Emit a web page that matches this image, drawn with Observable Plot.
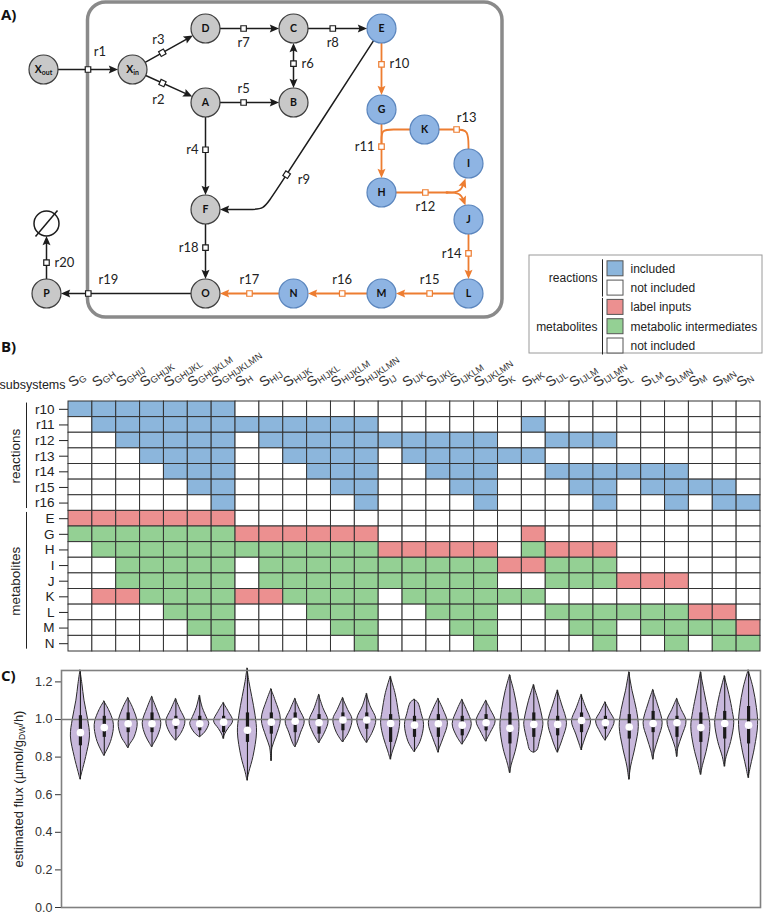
<!DOCTYPE html>
<html><head><meta charset="utf-8">
<script src="https://cdn.jsdelivr.net/npm/d3@7"></script>
<script src="https://cdn.jsdelivr.net/npm/@observablehq/plot@0.6"></script>
<style>
body{margin:0;background:#fff;}
#fig{position:relative;width:763px;height:915px;overflow:hidden;font-family:"Liberation Sans",Arial,sans-serif;}
.panel{position:absolute;left:0;}
.tag{position:absolute;font-family:"Open Sans",sans-serif;font-weight:700;font-size:15px;color:#111;}
</style></head><body>
<div id="fig">
 <div id="pa" class="panel" style="top:0"></div>
 <div id="pb" class="panel" style="top:330px"></div>
 <div id="pc" class="panel" style="top:660px"></div>
 <div class="tag" style="left:1px;top:4px">A)</div>
 <div class="tag" style="left:1px;top:336px">B)</div>
 <div class="tag" style="left:1px;top:665px">C)</div>
</div>
<script>
// ================= DATA =================
// --- Panel A: network (diagram layout units) ---
const nodeIds   = ["Xout","Xin","D","C","E","A","B","F","O","P","Ø","G","K","I","H","J","L","M","N"];
const nodeText  = ["X_{out}","X_{in}","D","C","E","A","B","F","O","P","","G","K","I","H","J","L","M","N"];
const nodeX     = [43,132,205,293,381,205,293,205,205,46,46,381,424,468,381,468,468,381,293];
const nodeY     = [69,69,28,28,28,102,102,209,293,293,223,109,129,163,192,219,293,293,293];
const nodeKind  = ["core","core","core","core","sub","core","core","core","core","core","sink","sub","sub","sub","sub","sub","sub","sub","sub"];

const reactions = [
 {id:"r1",  path:["Xout","Xin"], head:"end",  sub:false, t:0.5,  side:"NE"},
 {id:"r3",  path:["Xin","D"],    head:"end",  sub:false, t:0.36, side:"NW"},
 {id:"r2",  path:["Xin","A"],    head:"end",  sub:false, t:0.36, side:"SW"},
 {id:"r7",  path:["D","C"],      head:"end",  sub:false, t:0.4,  side:"S"},
 {id:"r8",  path:["C","E"],      head:"end",  sub:false, t:0.42, side:"S"},
 {id:"r6",  path:["B","C"],      head:"both", sub:false, t:0.54, side:"E"},
 {id:"r5",  path:["A","B"],      head:"end",  sub:false, t:0.4,  side:"N"},
 {id:"r4",  path:["A","F"],      head:"end",  sub:false, t:0.42, side:"W"},
 {id:"r9",  path:["E",[272,196],[263,209],[250,209],"F"], head:"end", sub:false, t:0.86, side:"SE"},
 {id:"r18", path:["F","O"],      head:"end",  sub:false, t:0.43, side:"W"},
 {id:"r19", path:["O","P"],      head:"end",  sub:false, t:0.79, side:"NE2"},
 {id:"r20", path:["P","Ø"],      head:"end",  sub:false, t:0.38, side:"E"},
 {id:"r10", path:["E","G"],      head:"end",  sub:true,  t:0.41, side:"E"},
 {id:"r11", path:["G","H"],      head:"end",  sub:true,  t:0.42, side:"W"},
 {id:null,  path:["K",[392,129],[381,129],[381,140],[381,146]], head:"none", sub:true},
 {id:"r12", path:["H",[447,192]], head:"none", sub:true, t:0.57, side:"S"},
 {id:null,  path:[[446,192],[460,192],[465,178]], head:"end", sub:true},
 {id:null,  path:[[446,192],[460,192],[465,205]], head:"end", sub:true},
 {id:"r13", path:["K",[457,129],[468,129],"I"], head:"none", sub:true, t:0.95, side:"NE1"},
 {id:"r14", path:["J","L"],      head:"end",  sub:true,  t:0.43, side:"W"},
 {id:"r15", path:["L","M"],      head:"end",  sub:true,  t:0.42, side:"N"},
 {id:"r16", path:["M","N"],      head:"end",  sub:true,  t:0.42, side:"N"},
 {id:"r17", path:["N","O"],      head:"end",  sub:true,  t:0.5,  side:"N"}
];

const legendLabels = ["included","not included","label inputs","metabolic intermediates","not included"];
const legendGroups = ["reactions","metabolites"];
const legendGroupRows = [[0,1],[2,4]];

// --- Panel B: subsystem composition ---
const subsystems = ["G","GH","GHIJ","GHIJK","GHIJKL","GHIJKLM","GHIJKLMN","H","HIJ","HIJK","HIJKL","HIJKLM","HIJKLMN",
  "IJ","IJK","IJKL","IJKLM","IJKLMN","K","HK","IJL","IJLM","IJLMN","L","LM","LMN","M","MN","N"];
const rowNames = ["r10","r11","r12","r13","r14","r15","r16","E","G","H","I","J","K","L","M","N"];
const rowGroups = ["reactions","metabolites"];
const rowGroupRange = [[0,6],[7,15]];
// 0 = not included, 1 = included / metabolic intermediate, 2 = label input
const cellCodes = [
 "11111110000000000000000000000",
 "01111111111110000001000000000",
 "00111110111111111100111000000",
 "00011110011110111111000000000",
 "00001110001110011100111111000",
 "00000110000110001100011011110",
 "00000010000010000100001001011",
 "22222220000000000000000000000",
 "11111112222220000002000000000",
 "01111111111112222201222000000",
 "00111110111111111122111000000",
 "00111110111111111100111222000",
 "02211112211110111111000000000",
 "00001110001110011100111111220",
 "00000110000110001100011011112",
 "00000010000010000100001001011"
];

// --- Panel C: violin summaries per subsystem [min, q1, median, q3, max] ---
const violinStats = [
 [0.680,0.860,0.930,1.020,1.260],[0.806,0.905,0.957,1.017,1.095],[0.847,0.930,0.977,1.035,1.113],
 [0.852,0.930,0.977,1.035,1.120],[0.887,0.948,0.986,1.017,1.108],[0.905,0.940,0.977,1.017,1.125],
 [0.896,0.930,0.986,1.017,1.087],[0.674,0.878,0.943,1.035,1.270],[0.778,0.922,0.986,1.035,1.160],
 [0.852,0.930,0.991,1.035,1.109],[0.873,0.922,0.983,1.026,1.130],[0.878,0.940,0.997,1.035,1.113],
 [0.875,0.948,0.997,1.035,1.135],[0.786,0.878,0.979,1.026,1.226],[0.826,0.905,0.970,1.017,1.104],
 [0.823,0.905,0.977,1.026,1.109],[0.866,0.913,0.970,1.017,1.104],[0.882,0.940,0.983,1.026,1.099],
 [0.714,0.870,0.953,1.035,1.234],[0.823,0.905,0.974,1.035,1.182],[0.823,0.913,0.974,1.017,1.153],
 [0.835,0.930,0.995,1.035,1.130],[0.887,0.948,0.983,1.017,1.090],[0.679,0.896,0.960,1.026,1.250],
 [0.786,0.930,0.979,1.043,1.156],[0.800,0.905,0.983,1.017,1.109],[0.705,0.878,0.957,1.035,1.250],
 [0.748,0.896,0.979,1.043,1.229],[0.688,0.870,0.970,1.069,1.260]
];
// density profile [flux value, relative half-width]
const violinProfiles = [
 [[1.26,0],[1.19,.08],[1.10,.17],[1.0,.32],[0.91,.40],[0.80,.24],[0.72,.08],[0.68,0]],
 [[1.095,0],[1.05,.2],[0.99,.38],[0.95,.40],[0.88,.28],[0.835,.12],[0.806,0]],
 [[1.113,0],[1.06,.21],[0.98,.40],[0.905,.27],[0.87,.10],[0.847,0]],
 [[1.12,0],[1.06,.19],[0.98,.39],[0.91,.25],[0.87,.08],[0.852,0]],
 [[1.108,0],[1.05,.2],[0.99,.40],[0.93,.25],[0.887,0]],
 [[1.125,0],[1.06,.13],[1.0,.33],[0.977,.40],[0.93,.22],[0.905,0]],
 [[1.087,0],[1.04,.22],[0.99,.40],[0.95,.20],[0.92,.06],[0.896,0]],
 [[1.27,0],[1.2,.08],[1.12,.2],[1.02,.34],[0.93,.40],[0.80,.25],[0.72,.08],[0.674,0]],
 [[1.16,0],[1.10,.18],[1.0,.40],[0.905,.2],[0.85,.05],[0.778,0]],
 [[1.109,0],[1.05,.2],[0.99,.40],[0.93,.25],[0.87,.08],[0.852,0]],
 [[1.13,0],[1.06,.18],[0.99,.40],[0.93,.25],[0.89,.08],[0.873,0]],
 [[1.113,0],[1.05,.22],[1.0,.40],[0.93,.26],[0.878,0]],
 [[1.135,0],[1.07,.16],[1.0,.40],[0.93,.25],[0.875,0]],
 [[1.226,0],[1.14,.2],[1.04,.34],[0.98,.40],[0.90,.28],[0.83,.1],[0.786,0]],
 [[1.104,0],[1.09,.15],[1.03,.30],[0.97,.40],[0.88,.25],[0.826,0]],
 [[1.109,0],[1.05,.22],[0.98,.40],[0.90,.22],[0.85,.07],[0.823,0]],
 [[1.104,0],[1.05,.2],[0.975,.40],[0.91,.22],[0.866,0]],
 [[1.099,0],[1.05,.2],[0.99,.40],[0.93,.2],[0.882,0]],
 [[1.234,0],[1.15,.18],[1.05,.33],[0.96,.40],[0.85,.28],[0.76,.08],[0.714,0]],
 [[1.182,0],[1.10,.2],[1.0,.38],[0.97,.40],[0.88,.25],[0.835,.15],[0.823,0]],
 [[1.153,0],[1.08,.18],[0.98,.39],[0.90,.23],[0.84,.06],[0.823,0]],
 [[1.13,0],[1.06,.2],[0.99,.40],[0.92,.22],[0.86,.06],[0.835,0]],
 [[1.09,0],[1.04,.2],[0.99,.39],[0.93,.2],[0.887,0]],
 [[1.25,0],[1.15,.14],[1.05,.32],[0.96,.40],[0.85,.26],[0.75,.08],[0.679,0]],
 [[1.156,0],[1.08,.2],[0.98,.40],[0.90,.24],[0.83,.07],[0.786,0]],
 [[1.109,0],[1.05,.2],[0.99,.40],[0.91,.22],[0.85,.06],[0.8,0]],
 [[1.25,0],[1.15,.15],[1.04,.32],[0.96,.40],[0.85,.28],[0.76,.1],[0.705,0]],
 [[1.229,0],[1.13,.2],[1.04,.34],[0.98,.40],[0.88,.27],[0.80,.08],[0.748,0]],
 [[1.26,0],[1.17,.2],[1.06,.35],[0.97,.40],[0.85,.27],[0.75,.1],[0.688,0]]
];

// ================= STYLE =================
const BLACK="#1c1c1c", ORANGE="#ed7d31";
const NODE_GREY="#c8c8c8", NODE_BLUE="#8eb4e3";
const CELL_BLUE="#8cb6dc", CELL_RED="#ec9090", CELL_GREEN="#94d094";
const VIOLET="#c8b8dc";
const legendColors = [CELL_BLUE,"white",CELL_RED,CELL_GREEN,"white"];
const SANS="'Liberation Sans', Arial, sans-serif";

// ================= PANEL A =================
const idx = Object.fromEntries(nodeIds.map((d,i)=>[d,i]));
const R = 14.5, RSINK = 12.5;
const pos = p => typeof p === "string" ? [nodeX[idx[p]], nodeY[idx[p]]] : p;
const rad = p => typeof p === "string" ? (nodeKind[idx[p]]==="sink" ? RSINK : R) : 0;
const toward = (a,b,r) => { const dx=b[0]-a[0], dy=b[1]-a[1], L=Math.hypot(dx,dy); return [a[0]+dx/L*r, a[1]+dy/L*r]; };
const angle = (a,b) => Math.atan2(b[1]-a[1], b[0]-a[0])*180/Math.PI;
const sideOffset = {N:[0,-14,"middle"], S:[0,14,"middle"], E:[8,0,"start"], W:[-7,0,"end"],
  NE:[12,-18,"middle"], NE1:[10,-12,"middle"], NE2:[20,-14,"middle"], NW:[-4,-13,"middle"], SW:[-4,17,"middle"], SE:[11,5,"start"]};

const linePts=[], heads=[], markers=[], rlabels=[];
reactions.forEach((e,k)=>{
  const raw = e.path.map(pos);
  const pts = raw.map(p=>p.slice());
  const n = pts.length-1;
  pts[0] = toward(raw[0], raw[1], rad(e.path[0]));
  pts[n] = toward(raw[n], raw[n-1], rad(e.path[n]));
  const col = e.sub ? ORANGE : BLACK;
  const drawPts = pts.map(p=>p.slice());
  if (e.head==="end"||e.head==="both") {
    heads.push({x:pts[n][0], y:pts[n][1], a:angle(pts[n-1],pts[n]), col});
    drawPts[n] = toward(pts[n], pts[n-1], 4);
  }
  if (e.head==="both") {
    heads.push({x:pts[0][0], y:pts[0][1], a:angle(pts[1],pts[0]), col});
    drawPts[0] = toward(pts[0], pts[1], 4);
  }
  drawPts.forEach(p => linePts.push({k, x:p[0], y:p[1], sub:e.sub}));
  if (e.id) {
    const a = pts[0], b = pts[1];
    const m = {x:a[0]+(b[0]-a[0])*e.t, y:a[1]+(b[1]-a[1])*e.t, a:angle(a,b), col};
    markers.push(m);
    const [dx,dy,anchor] = sideOffset[e.side];
    rlabels.push({x:m.x+dx, y:m.y+dy, text:e.id, anchor});
  }
});
const nodes = nodeIds.map((id,i)=>({id, text:nodeText[i], x:nodeX[i], y:nodeY[i], kind:nodeKind[i]}));
const sink = nodes.find(d=>d.kind==="sink");
const box = {x1:(nodeX[idx.Xout]+nodeX[idx.Xin])/2, x2:nodeX[idx.I]+34, y1:nodeY[idx.D]-26, y2:nodeY[idx.O]+24};

const headSymbol = {draw(ctx, size){ const r=Math.sqrt(size/Math.PI);
  ctx.moveTo(0,0); ctx.lineTo(-2.3*r,-1.0*r); ctx.lineTo(-1.9*r,0); ctx.lineTo(-2.3*r,1.0*r); ctx.closePath(); }};

const LX0=529, LX1=762, LY0=255, LY1=353, LROW0=268.3, LDY=19.3;
const legendRows = legendLabels.map((l,i)=>({label:l, color:legendColors[i], y:LROW0+LDY*i}));
const legendG = legendGroups.map((g,j)=>({g, y1:legendRows[legendGroupRows[j][0]].y-9, y2:legendRows[legendGroupRows[j][1]].y+9,
  ym:(legendRows[legendGroupRows[j][0]].y+legendRows[legendGroupRows[j][1]].y)/2}));

const plotA = Plot.plot({
  width:763, height:356, margin:0,
  x:{domain:[0,763], range:[0,763], axis:null},
  y:{domain:[0,356], range:[0,356], axis:null},
  color:{type:"identity"},
  style:{background:"transparent", fontFamily:"Lato, 'Open Sans', sans-serif"},
  marks:[
    Plot.rect([box], {x1:"x1", x2:"x2", y1:"y1", y2:"y2", rx:18, fill:"none", stroke:"#8a8a8a", strokeWidth:3.5}),
    Plot.line(linePts.filter(d=>!d.sub), {x:"x", y:"y", z:"k", stroke:BLACK, strokeWidth:1.5, curve:"basis"}),
    Plot.line(linePts.filter(d=>d.sub), {x:"x", y:"y", z:"k", stroke:ORANGE, strokeWidth:1.8, curve:"basis"}),
    Plot.link([sink], {x1:d=>d.x-11, y1:d=>d.y+13, x2:d=>d.x+11, y2:d=>d.y-13, stroke:BLACK, strokeWidth:1.5}),
    Plot.dot(nodes.filter(d=>d.kind==="sink"), {x:"x", y:"y", r:RSINK, fill:"none", stroke:BLACK, strokeWidth:1.5}),
    Plot.dot(nodes.filter(d=>d.kind!=="sink"), {x:"x", y:"y", r:R,
      fill:d=>d.kind==="sub"?NODE_BLUE:NODE_GREY, stroke:d=>d.kind==="sub"?"#5a85bd":"#3c3c3c", strokeWidth:1.2}),
    Plot.text(nodes.filter(d=>d.text), {x:"x", y:"y", text:"text", fontWeight:700, fontSize:10.5, fill:"#111"}),
    Plot.dot(heads, {x:"x", y:"y", symbol:headSymbol, r:4, fill:"col", rotate:"a", stroke:"none"}),
    Plot.dot(markers, {x:"x", y:"y", symbol:"square", r:3.1, fill:"white", stroke:"col", strokeWidth:1.2, rotate:"a"}),
    ...["middle","start","end"].map(an => Plot.text(rlabels.filter(d=>d.anchor===an), {x:"x", y:"y", text:"text", textAnchor:an, fontSize:13, fill:"#222"})),
    // legend
    Plot.rect([{}], {x1:LX0, x2:LX1, y1:LY0, y2:LY1, fill:"white", stroke:"#9a9a9a", strokeWidth:1}),
    Plot.rect(legendRows, {x1:607, x2:623, y1:d=>d.y-7.5, y2:d=>d.y+7.5, fill:"color", stroke:"#555", strokeWidth:1}),
    Plot.text(legendRows, {x:630, y:"y", text:"label", textAnchor:"start", fontFamily:SANS, fontSize:12, fill:"#222"}),
    Plot.text(legendG, {x:597, y:"ym", text:"g", textAnchor:"end", fontFamily:SANS, fontSize:12, fill:"#222"}),
    Plot.ruleX(legendG, {x:602, y1:"y1", y2:"y2", stroke:"#222", strokeWidth:1})
  ]
});
document.getElementById("pa").appendChild(plotA);

// ================= PANEL B =================
const NC = subsystems.length, NR = rowNames.length;
const BX0=68, BX1=760, BY0=71, BY1=321;
const colPx = (BX1-BX0)/NC;
const cells = [];
cellCodes.forEach((s,r)=>{
  const isReaction = r <= rowGroupRange[0][1];
  [...s].forEach((ch,c)=>{
    const code = +ch;
    cells.push({r, c, fill: code===0 ? "white" : code===2 ? CELL_RED : (isReaction ? CELL_BLUE : CELL_GREEN)});
  });
});
const groupsB = rowGroups.map((g,j)=>({g, a:rowGroupRange[j][0], b:rowGroupRange[j][1]}));

const plotB = Plot.plot({
  width:763, height:325, marginTop:BY0, marginBottom:4, marginLeft:BX0, marginRight:763-BX1,
  x:{domain:[-0.5, NC-0.5], range:[BX0,BX1], axis:null},
  y:{domain:[-0.5, NR-0.5], range:[BY0,BY1], axis:null},
  color:{type:"identity"},
  style:{background:"transparent", fontFamily:SANS, color:"#222"},
  marks:[
    Plot.rect(cells, {x1:d=>d.c-0.5, x2:d=>d.c+0.5, y1:d=>d.r-0.5, y2:d=>d.r+0.5, fill:"fill", stroke:"#333", strokeWidth:1}),
    Plot.ruleY(rowNames.map((d,i)=>i), {y:d=>d, x1:-0.5-9/colPx, x2:-0.5, stroke:"#222", strokeWidth:1}),
    Plot.text(rowNames, {y:(d,i)=>i, text:d=>d, frameAnchor:"left", dx:-14, textAnchor:"end", fontSize:13.5, fill:"#222"}),
    Plot.text(subsystems, {x:(d,i)=>i-0.5, y:()=>-0.5, text:d=>"S_{"+d+"}", dx:4, dy:-14, rotate:-35,
      textAnchor:"start", lineAnchor:"bottom", fontSize:14, fill:"#333"}),
    Plot.text(["subsystems"], {x:()=>-0.5, y:()=>-0.5, text:d=>d, dx:-3, dy:-13, textAnchor:"end", lineAnchor:"bottom", fontSize:12.5, fill:"#222"}),
    Plot.text(groupsB, {y:d=>(d.a+d.b)/2, text:"g", frameAnchor:"left", dx:-53, rotate:-90, textAnchor:"middle", fontSize:13.5, fill:"#222"}),
    Plot.ruleX(groupsB, {x:()=>-0.5, y1:d=>d.a-0.4, y2:d=>d.b+0.35, dx:-42, stroke:"#222", strokeWidth:1})
  ]
});
document.getElementById("pb").appendChild(plotB);

// ================= PANEL C =================
const stats = violinStats.map((s,i)=>({i, min:s[0], q1:s[1], med:s[2], q3:s[3], max:s[4]}));
const vpts = violinProfiles.flatMap((p,i)=>p.map(([v,w])=>({i, v, w})));

const plotC = Plot.plot({
  width:763, height:255, marginTop:10, marginBottom:8, marginLeft:61, marginRight:3,
  x:{domain:[-0.5, NC-0.5], range:[BX0,BX1], axis:null},
  y:{domain:[0,1.2606], ticks:7, tickFormat:".1f", tickSize:6, tickPadding:3, label:null},
  style:{background:"transparent", fontFamily:SANS, fontSize:"12.5px", color:"#333"},
  marks:[
    Plot.areaX(vpts, {y:"v", x1:d=>d.i-d.w, x2:d=>d.i+d.w, z:"i", fill:VIOLET, stroke:"#2b2b2b", strokeWidth:1, curve:"catmull-rom"}),
    Plot.ruleY([1], {stroke:"#7a7a7a", strokeWidth:1.5}),
    Plot.ruleX(stats, {x:"i", y1:"min", y2:"max", stroke:"#222", strokeWidth:1.1}),
    Plot.ruleX(stats, {x:"i", y1:"q1", y2:"q3", stroke:"#1a1a1a", strokeWidth:3.2}),
    Plot.dot(stats, {x:"i", y:"med", r:3.8, fill:"white", stroke:"none"}),
    Plot.frame({stroke:"#808080", strokeWidth:1.6}),
    Plot.text([0], {frameAnchor:"left", text:()=>"estimated flux (µmol/g_{DW}/h)", rotate:-90, dx:-43, textAnchor:"middle", fontSize:13, fill:"#222"})
  ]
});
document.getElementById("pc").appendChild(plotC);

// ============ subscripts (X_{out}, S_{GH}, g_{DW}) ============
function applySubscripts(svg){
  svg.querySelectorAll("text").forEach(t=>{
    if (t.children.length) return;
    const s = t.textContent;
    if (!s.includes("_{")) return;
    const fs = parseFloat(getComputedStyle(t).fontSize) || 12;
    const parts = s.split(/_\{([^}]*)\}/);
    t.textContent = "";
    let cur = 0;
    parts.forEach((p,k)=>{
      if (!p) return;
      const want = k%2 ? fs*0.16 : 0;
      const ts = document.createElementNS("http://www.w3.org/2000/svg","tspan");
      ts.textContent = p;
      if (k%2) ts.setAttribute("font-size", (fs*0.66).toFixed(2));
      if (want !== cur) { ts.setAttribute("dy", (want-cur).toFixed(2)); cur = want; }
      t.appendChild(ts);
    });
  });
}
[plotA, plotB, plotC].forEach(applySubscripts);
</script>
</body></html>
